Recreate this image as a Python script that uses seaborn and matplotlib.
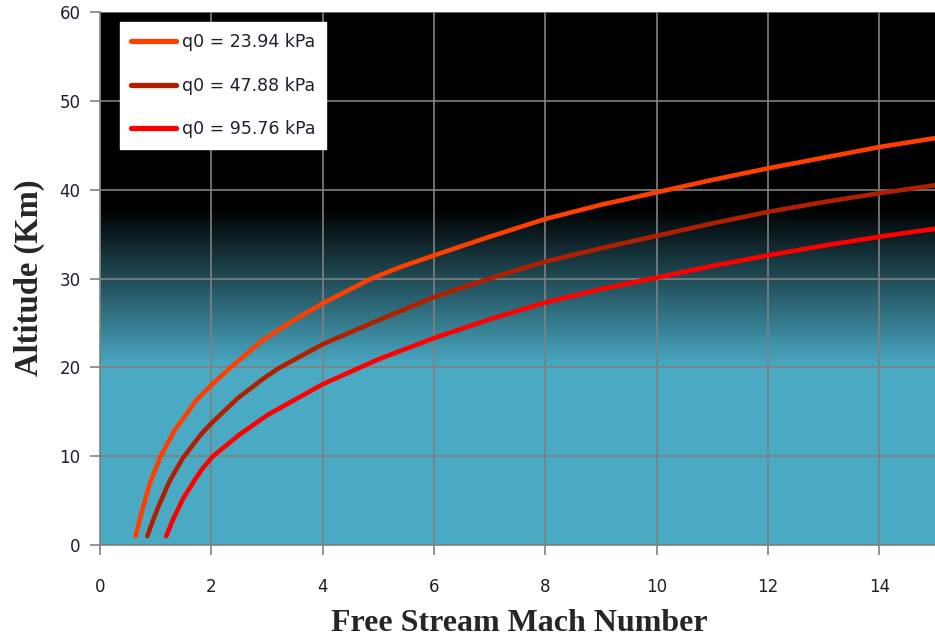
import numpy as np
import pandas as pd
import matplotlib
matplotlib.use("Agg")
import matplotlib.pyplot as plt
from matplotlib.colors import LinearSegmentedColormap
import seaborn as sns

# Flight-path curves of constant dynamic pressure: altitude vs. Mach number
labels = ["q0 = 23.94 kPa", "q0 = 47.88 kPa", "q0 = 95.76 kPa"]
colors = ["#FF3F00", "#B02000", "#FF0000"]

mach_q1 = [0.64, 0.70, 0.77, 0.90, 1.09, 1.34, 1.73, 2.00, 2.35, 2.89, 3.40,
           4.0, 4.88, 5.36, 6.0, 7.0, 8.0, 9.0, 10.0, 11.0, 12.0, 13.0, 14.0, 15.0]
alt_q1 = [1.0, 2.5, 4.2, 7.0, 10.0, 12.9, 16.3, 18.0, 20.0, 22.9, 25.0,
          27.2, 30.0, 31.2, 32.6, 34.7, 36.7, 38.3, 39.7, 41.1, 42.4, 43.6, 44.8, 45.8]

mach_q2 = [0.85, 0.93, 1.04, 1.25, 1.49, 1.82, 2.00, 2.47, 2.95, 3.21,
           4.0, 5.0, 6.0, 7.0, 8.0, 9.0, 10.0, 11.0, 12.0, 13.0, 14.0, 15.0]
alt_q2 = [1.0, 2.4, 4.2, 7.2, 9.8, 12.5, 13.7, 16.5, 18.8, 19.9,
          22.6, 25.3, 27.9, 30.0, 31.9, 33.4, 34.8, 36.2, 37.5, 38.6, 39.6, 40.5]

mach_q3 = [1.19, 1.30, 1.49, 1.70, 1.84, 2.03, 2.50, 3.00,
           4.0, 5.0, 6.0, 7.0, 8.0, 9.0, 10.0, 11.0, 12.0, 13.0, 14.0, 15.0]
alt_q3 = [1.0, 2.7, 5.2, 7.3, 8.6, 10.0, 12.4, 14.6,
          18.1, 20.9, 23.3, 25.4, 27.3, 28.8, 30.1, 31.4, 32.6, 33.7, 34.7, 35.6]

x_ticks = [0, 2, 4, 6, 8, 10, 12, 14]
y_ticks = [0, 10, 20, 30, 40, 50, 60]

series = [(mach_q1, alt_q1), (mach_q2, alt_q2), (mach_q3, alt_q3)]
frames = []
for lab, (m, a) in zip(labels, series):
    frames.append(pd.DataFrame({"Mach": m, "Altitude": a, "Case": lab}))
df = pd.concat(frames, ignore_index=True)

sns.set_theme(style="white")
plt.rcParams["font.family"] = ["DejaVu Sans"]

fig = plt.figure(figsize=(9.35, 6.4), dpi=100)
ax = fig.add_axes([100 / 935, 95 / 640, 835 / 935, 533 / 640])

# Sky background: teal near the ground fading to black aloft
sky = LinearSegmentedColormap.from_list("sky", ["#4AAAC4", "#000000"])
alt_grid = np.linspace(0, 60, 600)
frac = np.clip((alt_grid - 20.0) / 18.0, 0, 1)
ax.imshow(frac[:, None], cmap=sky, vmin=0, vmax=1, aspect="auto",
          origin="lower", extent=[0, 15, 0, 60], zorder=0,
          interpolation="bilinear")

sns.lineplot(data=df, x="Mach", y="Altitude", hue="Case", hue_order=labels,
             palette=dict(zip(labels, colors)), sort=False, estimator=None,
             linewidth=3.3, ax=ax, zorder=3)
for line in ax.get_lines():
    line.set_solid_capstyle("round")
    line.set_solid_joinstyle("round")

ax.set_xlim(0, 15)
ax.set_ylim(0, 60)
ax.set_xticks(x_ticks)
ax.set_yticks(y_ticks)
ax.set_axisbelow(True)
ax.grid(True, color="#808080", linewidth=1.2)

for side in ("top", "right"):
    ax.spines[side].set_visible(False)
for side in ("left", "bottom"):
    ax.spines[side].set_color("#808080")
    ax.spines[side].set_linewidth(1.2)

ax.tick_params(axis="x", which="major", direction="out", length=7, width=1.2,
               color="#808080", pad=17, labelsize=12, labelcolor="#1E1E30",
               bottom=True)
ax.tick_params(axis="y", which="major", direction="out", length=7, width=1.2,
               color="#808080", pad=7, labelsize=12, labelcolor="#1E1E30",
               left=True)

ax.set_xlabel("Free Stream Mach Number", family="Liberation Serif",
              fontweight="bold", fontsize=23)
ax.set_ylabel("Altitude (Km)", family="Liberation Serif",
              fontweight="bold", fontsize=23.5)
ax.xaxis.set_label_coords(0.502, -0.120)
ax.yaxis.set_label_coords(-0.066, 0.502)

leg = ax.legend(loc="upper left", bbox_to_anchor=(0.024, 0.981),
                fontsize=12.5, handlelength=2.6, labelspacing=1.45,
                borderpad=0.65, handletextpad=0.3, fancybox=False,
                frameon=True, framealpha=1.0, borderaxespad=0)
leg.get_frame().set_facecolor("white")
leg.get_frame().set_edgecolor("white")
for h in leg.get_lines():
    h.set_linewidth(3.8)
    h.set_solid_capstyle("round")
for t in leg.get_texts():
    t.set_color("#1E1E30")
leg.set_zorder(5)

fig.savefig("out.png", dpi=100)
